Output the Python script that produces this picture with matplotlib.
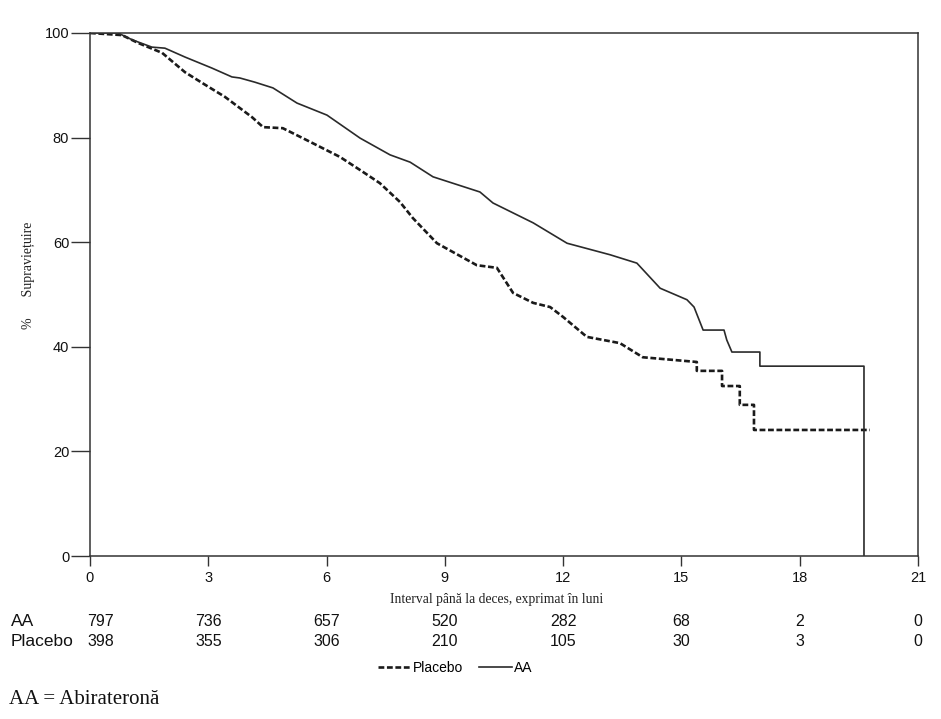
import matplotlib.pyplot as plt

# Kaplan-Meier curves (months, % surviving)
aa_t = [0, 0.71, 1.07, 1.57, 1.90, 2.41, 3.09, 3.60, 3.80, 4.18, 4.64, 5.25, 6.01,
        6.85, 7.61, 8.12, 8.70, 9.89, 10.22, 11.24, 12.10, 13.19, 13.87, 14.46,
        15.14, 15.32, 15.55, 16.08, 16.15, 16.28, 16.99, 16.99, 19.63, 19.63]
aa_s = [100, 100, 98.7, 97.3, 97.1, 95.4, 93.3, 91.6, 91.4, 90.6, 89.5, 86.6, 84.3,
        79.9, 76.7, 75.3, 72.5, 69.6, 67.5, 63.7, 59.8, 57.6, 56.0, 51.2,
        49.0, 47.6, 43.2, 43.2, 41.3, 39.0, 39.0, 36.3, 36.3, 0]

pl_t = [0, 0.81, 1.22, 1.83, 2.41, 2.92, 3.42, 4.11, 4.39, 4.89, 5.58, 6.34, 6.85,
        7.35, 7.86, 8.19, 8.80, 9.81, 10.32, 10.73, 11.24, 11.67, 12.0, 12.6, 13.44,
        14.02, 15.39, 15.39, 16.03, 16.03, 16.48, 16.48, 16.84, 16.84, 19.78]
pl_s = [100, 99.6, 98.1, 96.2, 92.5, 90.1, 87.8, 83.9, 82.0, 81.8, 79.2, 76.3, 73.8,
        71.3, 67.7, 64.6, 59.8, 55.6, 55.1, 50.3, 48.4, 47.6, 45.7, 41.9, 40.7,
        38.0, 37.1, 35.4, 35.4, 32.5, 32.5, 28.9, 28.9, 24.1, 24.1]

# numbers at risk
risk_months = [0, 3, 6, 9, 12, 15, 18, 21]
risk_aa = [797, 736, 657, 520, 282, 68, 2, 0]
risk_pl = [398, 355, 306, 210, 105, 30, 3, 0]

W, H = 941, 719
fig = plt.figure(figsize=(W / 100, H / 100), dpi=100)
ax = fig.add_axes([90 / W, 1 - 556 / H, 828 / W, 523 / H])

ax.plot(pl_t, pl_s, color='#1a1a1a', lw=1.9, ls=(0, (2.2, 1.0)), label='Placebo')
ax.plot(aa_t, aa_s, color='#2a2a2a', lw=1.2, label='AA')

ax.set_xlim(0, 21)
ax.set_ylim(0, 100)
ax.set_xticks(risk_months)
ax.set_yticks([0, 20, 40, 60, 80, 100])
ax.tick_params(direction='out', width=1, color='#333333',
               labelsize=10.5, labelcolor='#111111')
ax.tick_params(axis='y', length=14, pad=1)
ax.tick_params(axis='x', length=7, pad=4)
for lab in ax.get_xticklabels() + ax.get_yticklabels():
    lab.set_family('Liberation Sans')
for sp in ax.spines.values():
    sp.set_color('#333333')
    sp.set_linewidth(1.1)

fig.text(497 / W, 1 - 599 / H, 'Interval până la deces, exprimat în luni',
         ha='center', va='center', family='Liberation Serif', fontsize=9.8,
         color='#222222')
fig.text(28 / W, 1 - 275 / H, '%      Supraviețuire', rotation=90, ha='center',
         va='center', family='Liberation Serif', fontsize=10, color='#222222')

# at-risk table
for row, vals, y in [('AA', risk_aa, 622), ('Placebo', risk_pl, 642)]:
    yy = 1 - y / H
    fig.text(11 / W, yy, row, ha='left', va='center', family='Liberation Sans',
             fontsize=12.5, color='#111111')
    for i, (m, v) in enumerate(zip(risk_months, vals)):
        xpx = 87 if i == 0 else 90 + m * 828 / 21
        fig.text(xpx / W, yy, str(v), ha='left' if i == 0 else 'center',
                 va='center', family='Liberation Sans', fontsize=11.5,
                 color='#111111')

fig.legend(loc='center', bbox_to_anchor=(455 / W, 1 - 668 / H), ncol=2,
           frameon=False, handlelength=2.4, handletextpad=0.15, columnspacing=1.1,
           prop={'family': 'Liberation Sans', 'size': 10})

fig.text(9 / W, 1 - 700 / H, 'AA = Abirateronă', ha='left', va='center',
         family='Liberation Serif', fontsize=15, color='#111111')

fig.savefig('out.png', dpi=100)
